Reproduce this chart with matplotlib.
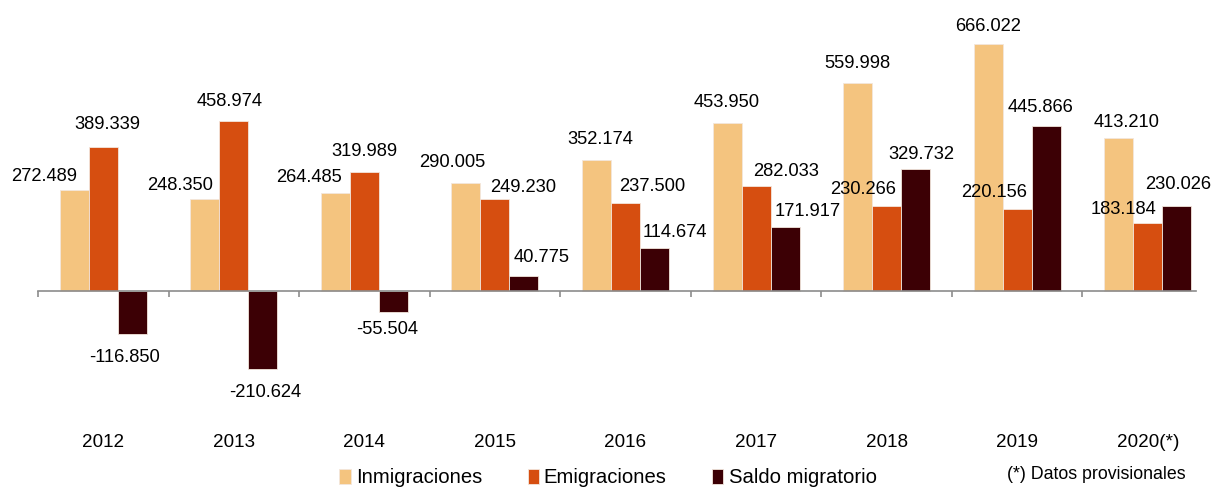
import matplotlib.pyplot as plt
import matplotlib.transforms as mtransforms
import numpy as np

plt.rcParams['font.family'] = ['Liberation Sans', 'DejaVu Sans']

years = ["2012", "2013", "2014", "2015", "2016", "2017", "2018", "2019", "2020(*)"]
inmigraciones = [272489, 248350, 264485, 290005, 352174, 453950, 559998, 666022, 413210]
emigraciones = [389339, 458974, 319989, 249230, 237500, 282033, 230266, 220156, 183184]
saldo = [-116850, -210624, -55504, 40775, 114674, 171917, 329732, 445866, 230026]

series = [("Inmigraciones", inmigraciones, "#F4C47F"),
          ("Emigraciones", emigraciones, "#D64E10"),
          ("Saldo migratorio", saldo, "#3C0005")]

# label offsets (pixels, from bar end) - the original labels were hand placed
lab_off = [
    [(-30, 13), (-25, 13), (-26, 15), (-14, 21), (4, 21), (0, 20), (0, 20), (0, 18), (8, 15)],
    [(4, 22), (-4, 19), (0, 21), (28, 11), (27, 16), (30, 15), (-24, 16), (-23, 17), (-24, 14)],
    [(-8, -23), (2, -23), (-6, -18), (18, 18), (20, 16), (23, 16), (6, 14), (-6, 18), (1, 21)],
]

def fmt(v):
    return f"{v:,}".replace(",", ".")

fig = plt.figure(figsize=(12.11, 4.88), dpi=100)
ax = fig.add_axes([38 / 1211, 78 / 488, 1158 / 1211, 410 / 488])
x = np.arange(len(years))
w = 0.222
for k, (name, vals, col) in enumerate(series):
    xs = x + (k - 1) * w
    ax.bar(xs, np.array(vals) / 1000, w, color=col, label=name,
           edgecolor="#f3e6dc", linewidth=0.6)
    for i, v in enumerate(vals):
        dx, dy = lab_off[k][i]
        ax.annotate(fmt(v), (xs[i], v / 1000), xytext=(dx * 0.72, dy * 0.72),
                    textcoords="offset points", ha="center", va="center", fontsize=13.2)

ax.set_xlim(-0.5, 8.37)
ax.set_ylim(-321, 785)
for s in ["top", "right", "left"]:
    ax.spines[s].set_visible(False)
ax.spines["bottom"].set_position(("data", 0))
ax.spines["bottom"].set_color("#8c8c8c")
ax.spines["bottom"].set_linewidth(1.2)
ax.set_yticks([])
ax.set_xticks(np.arange(-0.5, 8.5, 1.0))
ax.set_xticklabels([])
ax.tick_params(axis="x", direction="out", length=4.5, width=1.2, color="#8c8c8c")

trans = mtransforms.blended_transform_factory(ax.transData, ax.transAxes)
for i, y in enumerate(years):
    ax.text(i, -0.080, y, transform=trans, ha="center", va="center", fontsize=13.6)

fig.legend(loc="center", bbox_to_anchor=(608 / 1211, 0.021), ncol=3, frameon=False,
           fontsize=14.6, handlelength=0.55, handleheight=0.75, handletextpad=0.25,
           columnspacing=2.25, borderpad=0.0)
fig.text(1096 / 1211, 0.027, "(*) Datos provisionales", ha="center", va="center", fontsize=12.8)

fig.savefig("out.png", dpi=100)
